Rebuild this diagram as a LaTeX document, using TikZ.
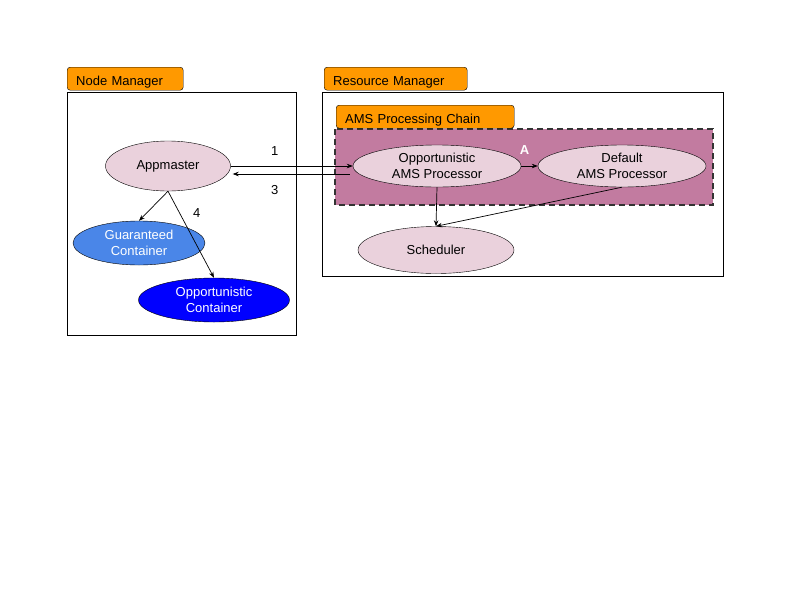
\documentclass[tikz,border=0pt]{standalone}
\usepackage{fontspec}
\setmainfont{Liberation Sans}
\usetikzlibrary{shapes.geometric,arrows.meta}
\definecolor{procpink}{HTML}{EAD1DC}
\definecolor{chainpurple}{HTML}{C27BA0}
\definecolor{taborange}{HTML}{FF9900}
\definecolor{guarblue}{HTML}{4A86E8}
\definecolor{oppblue}{HTML}{0000FF}

\begin{document}
\begin{tikzpicture}[x=1pt, y=-1pt,
  every node/.style={font=\fontsize{13}{16}\selectfont},
  proc/.style={ellipse, draw, fill=procpink, inner sep=0pt, align=center},
  tab/.style={draw, fill=taborange, rounded corners=3pt, anchor=north west,
    inner xsep=9pt, inner ysep=0pt, minimum height=23pt, text height=14pt,
    text depth=0pt, align=left, text width=#1},
  arr/.style={-{Stealth[length=6pt,width=4.5pt]}, line width=0.7pt}]

  \useasboundingbox (0,0) rectangle (800,600);

  % boxes
  \draw[line width=0.7pt] (67,92) rectangle (296,335);
  \draw[line width=0.7pt] (322,92) rectangle (723,276);
  \draw[fill=chainpurple, dashed, line width=1.6pt, dash pattern=on 6pt off 4pt, draw=black!80]
    (335,129) rectangle (713,205);

  % tabs
  \node[tab=98pt] (nmtab) at (67,67) {Node Manager};
  \node[tab=125pt] (rmtab) at (324,67) {Resource Manager};
  \node[tab=160pt] (chaintab) at (336,105) {AMS Processing Chain};

  % node manager side
  \node[proc, minimum width=125pt, minimum height=50pt] (am) at (168,166) {Appmaster};
  \node[proc, fill=guarblue, text=white, minimum width=132pt, minimum height=44pt] (gc) at (139,243) {Guaranteed\\Container};
  \node[proc, fill=oppblue, text=white, minimum width=151pt, minimum height=44pt] (oc) at (214,300) {Opportunistic\\Container};

  % resource manager side
  \node[proc, minimum width=168pt, minimum height=42pt] (oams) at (437,166) {Opportunistic\\AMS Processor};
  \node[proc, minimum width=168pt, minimum height=42pt] (dams) at (622,166) {Default\\AMS Processor};
  \node[proc, minimum width=156pt, minimum height=47pt] (sch) at (436,250) {Scheduler};

  % connectors
  \draw[arr] (am.east) -- node[pos=0.36, yshift=15pt]{1} (oams.west);
  \draw[arr] ([shift={(-3,8)}]oams.west) -- node[pos=0.64, yshift=-16pt]{3} ([shift={(2,8)}]am.east);
  \draw[arr] (am.south) -- (gc.north);
  \draw[arr] (am.south) -- node[pos=0.25, right, xshift=10pt]{4} (oc.north);
  \draw[arr] (oams.east) -- node[above, yshift=8pt, xshift=-5pt, text=white, font=\fontsize{13}{16}\selectfont\bfseries]{A} (dams.west);
  \draw[arr] (oams.south) -- (sch.north);
  \draw[arr] (dams.south) -- (sch.north);

\end{tikzpicture}
\end{document}
